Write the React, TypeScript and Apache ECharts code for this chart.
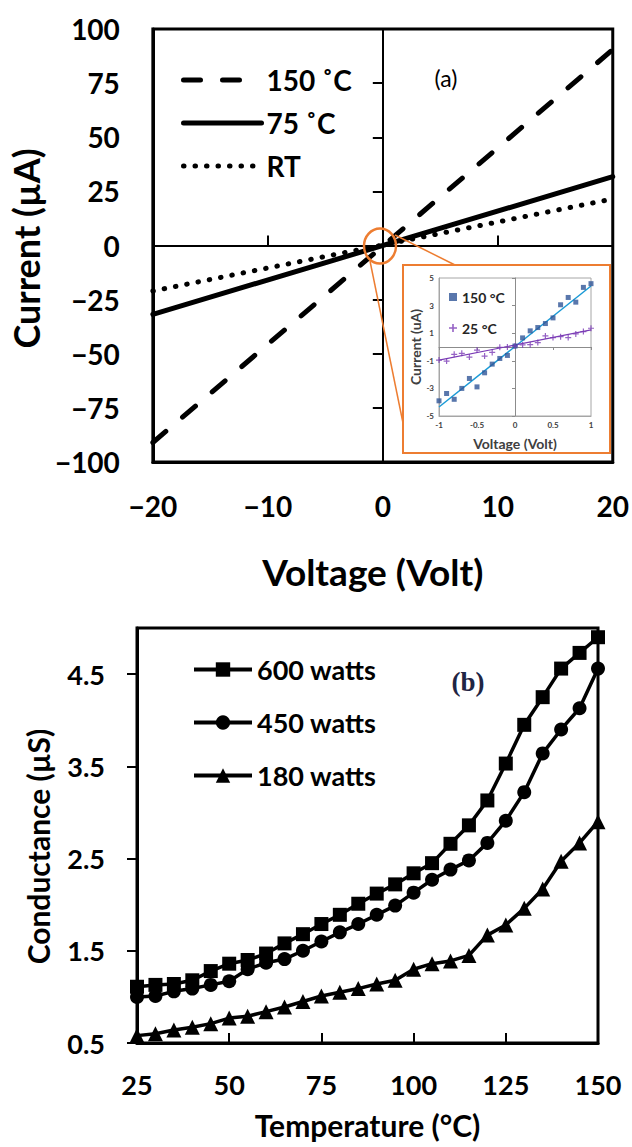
import React, { useEffect, useRef } from "react";
import * as echarts from "echarts";

// ---------- Panel (a): I–V lines ----------
const VOLT_RANGE = [-20, 20];
const I_150C = [-91, 90.5];
const I_75C = [-31.8, 31.8];
const I_RT = [-21, 21.5];

// ---------- Inset ----------
const INSET_V = [-1, -0.9, -0.8, -0.7, -0.6, -0.5, -0.4, -0.3, -0.2, -0.1, 0, 0.1, 0.2, 0.3, 0.4, 0.5, 0.6, 0.7, 0.8, 0.9, 1];
const INSET_150 = [-3.9, -3.37, -3.79, -3.0, -2.28, -2.89, -1.87, -1.24, -0.83, -0.61, 0.07, 0.66, 1.17, 1.41, 1.7, 2.11, 3.06, 3.59, 3.25, 4.32, 4.59];
const INSET_25 = [-0.95, -1.02, -0.53, -0.46, -0.73, -0.22, -0.66, -0.39, -0.02, 0, 0.07, 0.15, 0.17, 0.32, 0.8, 0.68, 0.75, 0.68, 0.95, 1.12, 1.36];
const FIT_V = [-1, 1];
const FIT_150 = [-4.35, 4.42];
const FIT_25 = [-0.95, 1.24];
const INSET_Y_TICKS = [-5, -3, -1, 1, 3, 5];

// ---------- Panel (b): conductance vs temperature ----------
const TEMPS = [25, 30, 35, 40, 45, 50, 55, 60, 65, 70, 75, 80, 85, 90, 95, 100, 105, 110, 115, 120, 125, 130, 135, 140, 145, 150];
const G_600W = [1.11, 1.13, 1.14, 1.18, 1.28, 1.36, 1.4, 1.47, 1.58, 1.68, 1.79, 1.89, 2.01, 2.12, 2.22, 2.34, 2.45, 2.66, 2.86, 3.13, 3.53, 3.95, 4.25, 4.56, 4.73, 4.9];
const G_450W = [1.0, 1.01, 1.06, 1.09, 1.13, 1.17, 1.3, 1.37, 1.41, 1.5, 1.6, 1.7, 1.79, 1.89, 1.99, 2.13, 2.27, 2.38, 2.48, 2.67, 2.91, 3.22, 3.64, 3.9, 4.13, 4.56];
const G_180W = [0.58, 0.6, 0.64, 0.67, 0.71, 0.77, 0.79, 0.84, 0.89, 0.95, 1.01, 1.05, 1.09, 1.14, 1.18, 1.3, 1.36, 1.39, 1.45, 1.67, 1.78, 1.96, 2.17, 2.47, 2.67, 2.9];
const B_Y_TICKS = [0.5, 1.5, 2.5, 3.5, 4.5];

const FONT = "Lato, 'DejaVu Sans', sans-serif";
const ORANGE = "#ED7D31";
const PLUS = "path://M4,0H6V4H10V6H6V10H4V6H0V4H4Z";

const zip = (xs: number[], ys: number[]) => xs.map((x, i) => [x, ys[i]]);
const minus = (v: number) => String(v).replace("-", "\u2212");

export default function App() {
  const ref = useRef<HTMLDivElement>(null);

  useEffect(() => {
    if (!ref.current) return;
    const chart = echarts.init(ref.current, null, { renderer: "svg" });

    const bold = (size: number, color = "#000") => ({
      fontSize: size,
      fontWeight: "bold" as const,
      fontFamily: FONT,
      color,
    });

    const option: any = {
      animation: false,
      backgroundColor: "#fff",
      grid: [
        { left: 145, top: 29, width: 468, height: 433, show: true, borderColor: "#000", borderWidth: 3, backgroundColor: "transparent" },
        { left: 439, top: 278, width: 152, height: 138, show: true, borderColor: "#a6a6a6", borderWidth: 1, backgroundColor: "#fff" },
        { left: 137, top: 628, width: 461, height: 415, show: true, borderColor: "#000", borderWidth: 3, backgroundColor: "transparent" },
      ],
      xAxis: [
        {
          gridIndex: 0, type: "value", min: -20, max: 20, interval: 10, position: "bottom",
          axisLine: { show: true, onZero: false, lineStyle: { color: "#000", width: 3 } },
          axisTick: { show: false }, splitLine: { show: false },
          axisLabel: { ...bold(28), margin: 30, formatter: minus },
          name: "Voltage (Volt)", nameLocation: "middle", nameGap: 91,
          nameTextStyle: { ...bold(37), padding: [0, 20, 0, 0] },
        },
        {
          gridIndex: 0, type: "value", min: -20, max: 20, interval: 10, position: "bottom",
          axisLine: { show: true, onZero: true, lineStyle: { color: "#000", width: 2 } },
          axisTick: { show: true, inside: true, length: 10, lineStyle: { color: "#000", width: 2 } },
          axisLabel: { show: false }, splitLine: { show: false },
        },
        {
          gridIndex: 1, type: "value", min: -1, max: 1, interval: 0.5, position: "bottom",
          axisLine: { show: true, onZero: false, lineStyle: { color: "#a6a6a6", width: 1 } },
          axisTick: { show: false }, splitLine: { show: false },
          axisLabel: { ...bold(8, "#404040"), margin: 5 },
          name: "Voltage (Volt)", nameLocation: "middle", nameGap: 20,
          nameTextStyle: bold(14, "#404040"),
        },
        {
          gridIndex: 1, type: "value", min: -1, max: 1, interval: 0.5, position: "bottom",
          axisLine: { show: true, onZero: true, lineStyle: { color: "#8c8c8c", width: 1 } },
          axisTick: { show: true, inside: false, length: 3, lineStyle: { color: "#8c8c8c", width: 1 } },
          axisLabel: { show: false }, splitLine: { show: false },
        },
        {
          gridIndex: 2, type: "value", min: 25, max: 150, interval: 25, position: "bottom",
          axisLine: { show: true, onZero: false, lineStyle: { color: "#000", width: 3 } },
          axisTick: { show: true, inside: true, length: 10, lineStyle: { color: "#000", width: 2 } },
          splitLine: { show: false },
          axisLabel: { ...bold(27), margin: 28 },
          name: "Temperature (°C)", nameLocation: "middle", nameGap: 67,
          nameTextStyle: bold(30),
        },
      ],
      yAxis: [
        {
          gridIndex: 0, type: "value", min: -100, max: 100, interval: 25, position: "left",
          axisLine: { show: true, onZero: false, lineStyle: { color: "#000", width: 3 } },
          axisTick: { show: false }, splitLine: { show: false },
          axisLabel: { ...bold(28), margin: 33, formatter: minus },
          name: "Current (µA)", nameLocation: "middle", nameRotate: 90, nameGap: 98,
          nameTextStyle: { ...bold(36), padding: [0, 6, 0, 0] },
        },
        {
          gridIndex: 0, type: "value", min: -100, max: 100, interval: 25, position: "left",
          axisLine: { show: true, onZero: true, lineStyle: { color: "#000", width: 2 } },
          axisTick: { show: true, inside: false, length: 10, lineStyle: { color: "#000", width: 2 } },
          axisLabel: { show: false }, splitLine: { show: false },
        },
        {
          gridIndex: 1, type: "value", min: -5, max: 5, interval: 1, position: "left",
          axisLine: { show: true, onZero: false, lineStyle: { color: "#a6a6a6", width: 1 } },
          axisTick: { show: false }, splitLine: { show: false },
          axisLabel: { ...bold(8, "#404040"), margin: 5, customValues: INSET_Y_TICKS },
          name: "Current (uA)", nameLocation: "middle", nameRotate: 90, nameGap: 17,
          nameTextStyle: bold(14, "#404040"),
        },
        {
          gridIndex: 1, type: "value", min: -5, max: 5, interval: 1, position: "left",
          axisLine: { show: true, onZero: true, lineStyle: { color: "#8c8c8c", width: 1 } },
          axisTick: { show: true, inside: false, length: 3, customValues: INSET_Y_TICKS, lineStyle: { color: "#8c8c8c", width: 1 } },
          axisLabel: { show: false }, splitLine: { show: false },
        },
        {
          gridIndex: 2, type: "value", min: 0.5, max: 5, position: "left",
          axisLine: { show: true, onZero: false, lineStyle: { color: "#000", width: 3 } },
          axisTick: { show: true, inside: false, length: 10, customValues: B_Y_TICKS, lineStyle: { color: "#000", width: 2 } },
          splitLine: { show: false },
          axisLabel: { ...bold(27), margin: 32, customValues: B_Y_TICKS, formatter: (v: number) => v.toFixed(1) },
          name: "Conductance (µS)", nameLocation: "middle", nameRotate: 90, nameGap: 84,
          nameTextStyle: { ...bold(30), padding: [0, 22, 0, 0] },
        },
      ],
      legend: [
        {
          data: ["150 ˚C", "75 ˚C", "RT"], orient: "vertical", left: 181, top: 66, padding: 0,
          itemWidth: 78, itemHeight: 2, itemGap: 15, selectedMode: false,
          itemStyle: { opacity: 0 },
          lineStyle: { width: 5, cap: "round" },
          textStyle: bold(28),
        },
        {
          data: ["150 °C", "25 °C"], orient: "vertical", left: 449, top: 290, padding: 0,
          itemWidth: 8, itemHeight: 8, itemGap: 17, selectedMode: false,
          textStyle: bold(14, "#262626"),
        },
        {
          data: ["600 watts", "450 watts", "180 watts"], orient: "vertical", left: 192, top: 656, padding: 0,
          itemWidth: 58, itemHeight: 18, itemGap: 26, selectedMode: false,
          lineStyle: { width: 4 },
          textStyle: bold(27),
        },
      ],
      series: [
        // panel (a)
        { type: "line", name: "150 ˚C", xAxisIndex: 0, yAxisIndex: 0, data: zip(VOLT_RANGE, I_150C), symbol: "none",
          itemStyle: { color: "#000" }, lineStyle: { color: "#000", width: 5, type: [17, 22], cap: "round" } },
        { type: "line", name: "75 ˚C", xAxisIndex: 0, yAxisIndex: 0, data: zip(VOLT_RANGE, I_75C), symbol: "none",
          itemStyle: { color: "#000" }, lineStyle: { color: "#000", width: 5, type: "solid", cap: "round" } },
        { type: "line", name: "RT", xAxisIndex: 0, yAxisIndex: 0, data: zip(VOLT_RANGE, I_RT), symbol: "none",
          itemStyle: { color: "#000" }, lineStyle: { color: "#000", width: 5, type: [0.5, 11], cap: "round" } },
        // inset
        { type: "line", name: "fit 150", xAxisIndex: 2, yAxisIndex: 2, data: zip(FIT_V, FIT_150), symbol: "none",
          lineStyle: { color: "#1a9ad6", width: 1.5 }, z: 3 },
        { type: "line", name: "fit 25", xAxisIndex: 2, yAxisIndex: 2, data: zip(FIT_V, FIT_25), symbol: "none",
          lineStyle: { color: "#7a3bb5", width: 1.2 }, z: 3 },
        { type: "scatter", name: "150 °C", xAxisIndex: 2, yAxisIndex: 2, data: zip(INSET_V, INSET_150), symbol: "rect",
          symbolSize: 5, itemStyle: { color: "#2F5597" }, z: 4 },
        { type: "scatter", name: "25 °C", xAxisIndex: 2, yAxisIndex: 2, data: zip(INSET_V, INSET_25), symbol: PLUS,
          symbolSize: 6, itemStyle: { color: "#7a3bb5" }, z: 4 },
        // panel (b)
        { type: "line", name: "600 watts", xAxisIndex: 4, yAxisIndex: 4, data: zip(TEMPS, G_600W), symbol: "rect",
          symbolSize: 14, clip: false, itemStyle: { color: "#000" }, lineStyle: { color: "#000", width: 3.5 } },
        { type: "line", name: "450 watts", xAxisIndex: 4, yAxisIndex: 4, data: zip(TEMPS, G_450W), symbol: "circle",
          symbolSize: 14, clip: false, itemStyle: { color: "#000" }, lineStyle: { color: "#000", width: 3.5 } },
        { type: "line", name: "180 watts", xAxisIndex: 4, yAxisIndex: 4, data: zip(TEMPS, G_180W), symbol: "triangle",
          symbolSize: 15, clip: false, itemStyle: { color: "#000" }, lineStyle: { color: "#000", width: 3.5 } },
      ],
      graphic: [
        { type: "rect", z: -1, shape: { x: 403, y: 265, width: 207, height: 188 },
          style: { fill: "#fff", stroke: ORANGE, lineWidth: 2 } },
        { type: "ellipse", z: 10, shape: { cx: 380, cy: 246, rx: 16, ry: 17.5 },
          style: { fill: "transparent", stroke: ORANGE, lineWidth: 2.5 } },
        { type: "line", z: 10, shape: { x1: 395, y1: 235, x2: 455, y2: 265 },
          style: { stroke: ORANGE, lineWidth: 1.5 } },
        { type: "line", z: 10, shape: { x1: 370, y1: 261, x2: 403, y2: 423 },
          style: { stroke: ORANGE, lineWidth: 1.5 } },
        { type: "text", z: 10, x: 446, y: 78,
          style: { text: "(a)", fontSize: 23, fontFamily: FONT, fill: "#000",
            align: "center", verticalAlign: "middle", textAlign: "center", textVerticalAlign: "middle" } },
        { type: "text", z: 10, x: 468, y: 682,
          style: { text: "(b)", fontSize: 27, fontWeight: "bold", fontFamily: "'Liberation Serif', serif", fill: "#1f2544",
            align: "center", verticalAlign: "middle", textAlign: "center", textVerticalAlign: "middle" } },
      ],
    };

    chart.setOption(option);
    return () => chart.dispose();
  }, []);

  return (
    <div
      ref={ref}
      style={{ position: "absolute", left: 0, top: 0, width: 632, height: 1147 }}
    />
  );
}
